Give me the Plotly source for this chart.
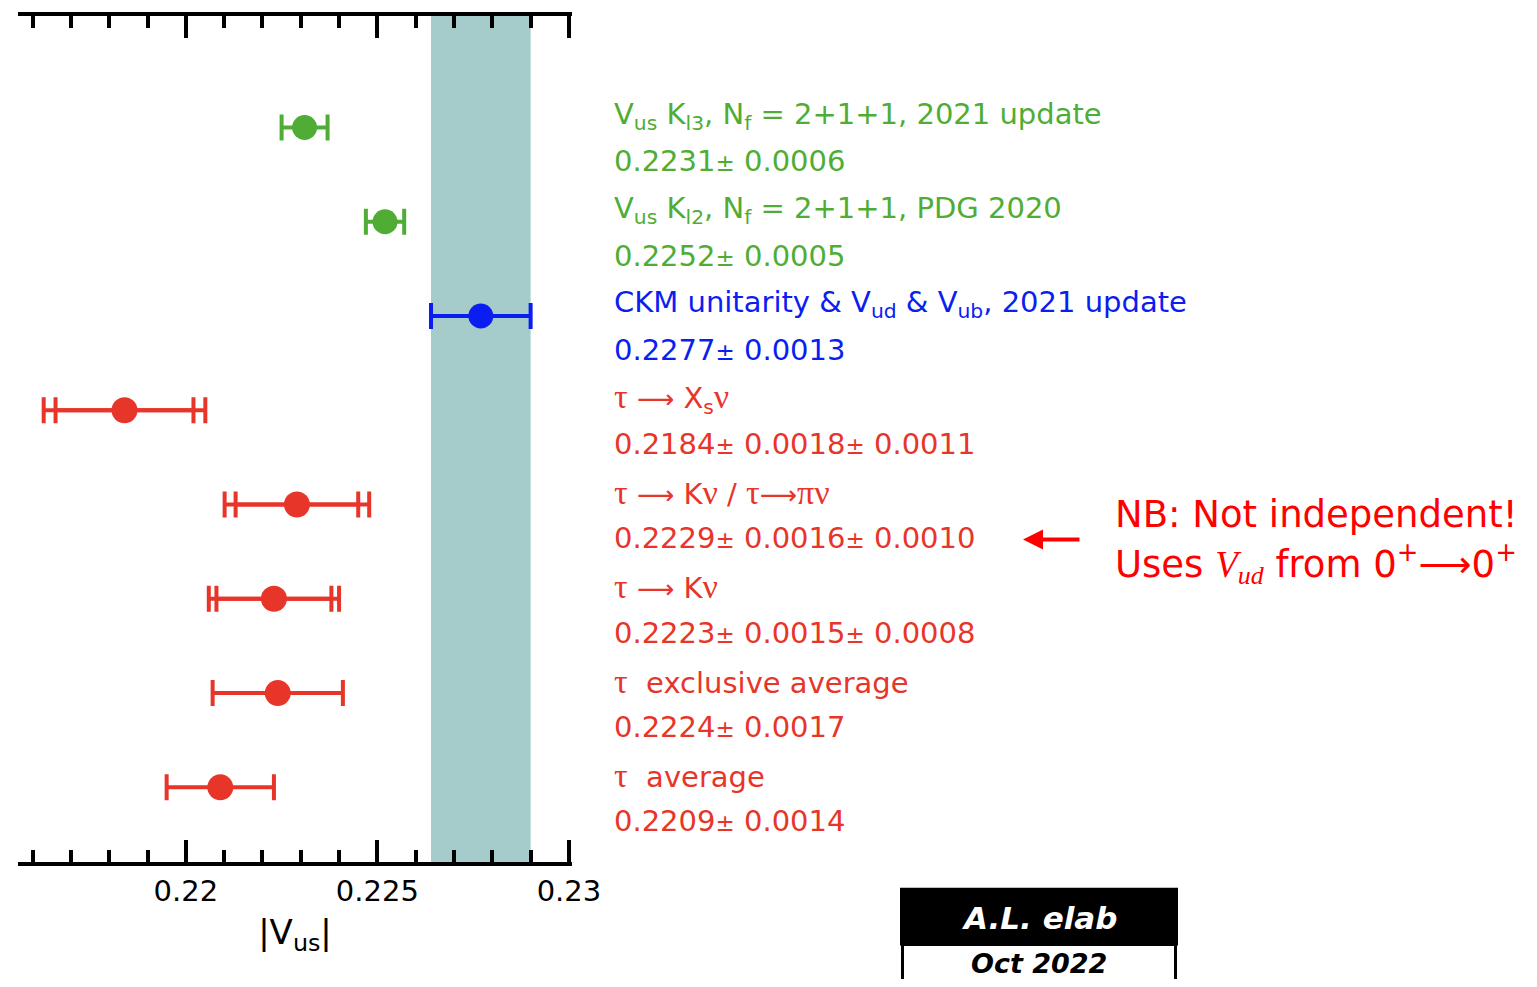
import plotly.graph_objects as go

# ---------------- data ----------------
labels = [
    "V<sub>us</sub> K<sub>l3</sub>, N<sub>f</sub> = 2+1+1, 2021 update",
    "V<sub>us</sub> K<sub>l2</sub>, N<sub>f</sub> = 2+1+1, PDG 2020",
    "CKM unitarity &amp; V<sub>ud</sub> &amp; V<sub>ub</sub>, 2021 update",
    "τ ⟶ X<sub>s</sub>ν",
    "τ ⟶ Kν / τ⟶πν",
    "τ ⟶ Kν",
    "τ  exclusive average",
    "τ  average",
]
values = [0.2231, 0.2252, 0.2277, 0.2184, 0.2229, 0.2223, 0.2224, 0.2209]
err_stat = [0.0006, 0.0005, 0.0013, 0.0018, 0.0016, 0.0015, 0.0017, 0.0014]
err_syst = [0.0, 0.0, 0.0, 0.0011, 0.0010, 0.0008, 0.0, 0.0]
groups = ["lattice", "lattice", "ckm", "tau", "tau", "tau", "tau", "tau"]
band_index = 2
tick_vals = [0.22, 0.225, 0.23]
tick_text = ["0.22", "0.225", "0.23"]

# ---------------- style ----------------
GREEN = "#4fad35"
BLUE = "#0a1ef2"
RED = "#e8352a"
BAND = "#a6cbcb"
col = {"lattice": GREEN, "ckm": BLUE, "tau": RED}
FONT = "DejaVu Sans, Liberation Sans, Arial, sans-serif"
SERIF = "Liberation Serif"

OFF = 8  # page body margin
W, H = 1537 - 2 * OFF, 987 - 2 * OFF
L, R, T, B = 18 - OFF, 572 - OFF, 12 - OFF, 862 - OFF
XR = [0.21562, 0.23008]
n = len(values)
ypos = [n - i for i in range(n)]
YR = [1 - 75 / 94.7, n + 112 / 94.7]


def px2paper_x(px):
    return (px - OFF - L) / (R - L)


def px2paper_y(py):
    return (B - (py - OFF)) / (B - T)


fig = go.Figure()

# band
c, e = values[band_index], err_stat[band_index]
fig.add_shape(type="rect", xref="x", yref="paper", x0=c - e, x1=c + e, y0=0, y1=1,
              fillcolor=BAND, line_width=0, layer="below")

# error bars
for i in range(n):
    color = col[groups[i]]
    tot = (err_stat[i] ** 2 + err_syst[i] ** 2) ** 0.5
    if err_syst[i] > 0:
        fig.add_trace(go.Scatter(
            x=[values[i]], y=[ypos[i]], mode="markers",
            marker=dict(size=1, color="rgba(0,0,0,0)"),
            error_x=dict(type="data", array=[err_stat[i]], color=color,
                         thickness=4, width=13),
            showlegend=False, hoverinfo="skip"))
    fig.add_trace(go.Scatter(
        x=[values[i]], y=[ypos[i]], mode="markers",
        marker=dict(size=26 if groups[i] == "tau" else 25, color=color),
        error_x=dict(type="data", array=[tot], color=color,
                     thickness=4, width=13),
        showlegend=False))


def greek(s):
    for ch in "τνπ":
        s = s.replace(ch, f"<span style='font-family:{SERIF};font-size:34px'>{ch}</span>")
    s = s.replace("⟶", "<span style='font-size:26px'>⟶</span>")
    return s


annotations = []
pm = "<span style='font-size:23px'>±</span>"
ROW_PX = (862 - 12) / (YR[1] - YR[0])
for i in range(n):
    color = col[groups[i]]
    yrow = 862 - (ypos[i] - YR[0]) * ROW_PX
    txt_label = greek(labels[i]) if groups[i] == "tau" else labels[i]
    annotations.append(dict(
        x=px2paper_x(612), y=px2paper_y(yrow - 12), xref="paper", yref="paper",
        xanchor="left", yanchor="middle", text=txt_label, showarrow=False,
        font=dict(family=FONT, size=29, color=color)))
    vt = f"{values[i]:.4f}{pm} {err_stat[i]:.4f}"
    if err_syst[i] > 0:
        vt += f"{pm} {err_syst[i]:.4f}"
    annotations.append(dict(
        x=px2paper_x(612), y=px2paper_y(yrow + 34), xref="paper", yref="paper",
        xanchor="left", yanchor="middle", text=vt, showarrow=False,
        font=dict(family=FONT, size=29, color=color)))

# NB note
annotations.append(dict(
    x=px2paper_x(1113), y=px2paper_y(513), xref="paper", yref="paper",
    xanchor="left", yanchor="middle", text="NB: Not independent!", showarrow=False,
    font=dict(family=FONT, size=37, color="#ff0000")))
annotations.append(dict(
    x=px2paper_x(1113), y=px2paper_y(562), xref="paper", yref="paper",
    xanchor="left", yanchor="middle",
    text=f"Uses <span style='font-family:{SERIF}'><i>V<sub>ud</sub></i></span> from 0<sup>+</sup>⟶0<sup>+</sup>",
    showarrow=False, font=dict(family=FONT, size=37, color="#ff0000")))
annotations.append(dict(
    x=px2paper_x(1023), y=px2paper_y(538), xref="paper", yref="paper",
    ax=58, ay=0, text="", showarrow=True, arrowhead=2, arrowsize=1,
    arrowwidth=4, arrowcolor="#ff0000"))

# stamp box
fig.add_shape(type="rect", xref="paper", yref="paper",
              x0=px2paper_x(901), x1=px2paper_x(1177), y0=px2paper_y(945), y1=px2paper_y(889),
              fillcolor="black", line=dict(color="black", width=2))
fig.add_shape(type="rect", xref="paper", yref="paper",
              x0=px2paper_x(902.5), x1=px2paper_x(1175.5), y0=px2paper_y(995), y1=px2paper_y(945),
              fillcolor="white", line=dict(color="black", width=3))
annotations.append(dict(
    x=px2paper_x(1039), y=px2paper_y(918), xref="paper", yref="paper",
    xanchor="center", yanchor="middle", text="<b><i>A.L. elab</i></b>", showarrow=False,
    font=dict(family=FONT, size=31, color="white")))
annotations.append(dict(
    x=px2paper_x(1039), y=px2paper_y(964), xref="paper", yref="paper",
    xanchor="center", yanchor="middle", text="<b><i>Oct 2022</i></b>", showarrow=False,
    font=dict(family=FONT, size=27, color="black")))

fig.update_layout(
    width=W, height=H,
    margin=dict(l=L, r=W - R, t=T, b=H - B, pad=0),
    paper_bgcolor="white", plot_bgcolor="white",
    annotations=annotations,
    xaxis=dict(
        range=XR, showgrid=False, zeroline=False,
        showline=True, linewidth=4, linecolor="black", mirror="allticks",
        ticks="inside", ticklen=22, tickwidth=4, tickcolor="black",
        tickvals=tick_vals, ticktext=tick_text,
        tickfont=dict(family=FONT, size=29, color="black"),
        minor=dict(dtick=0.001, tick0=0.22, ticks="inside", ticklen=12,
                   tickwidth=4, tickcolor="black", showgrid=False),
        title=dict(text="|V<sub>us</sub>|", font=dict(family=FONT, size=34, color="black"),
                   standoff=14),
    ),
    yaxis=dict(range=YR, visible=False, showgrid=False, zeroline=False),
)

fig.write_html("out.html")
